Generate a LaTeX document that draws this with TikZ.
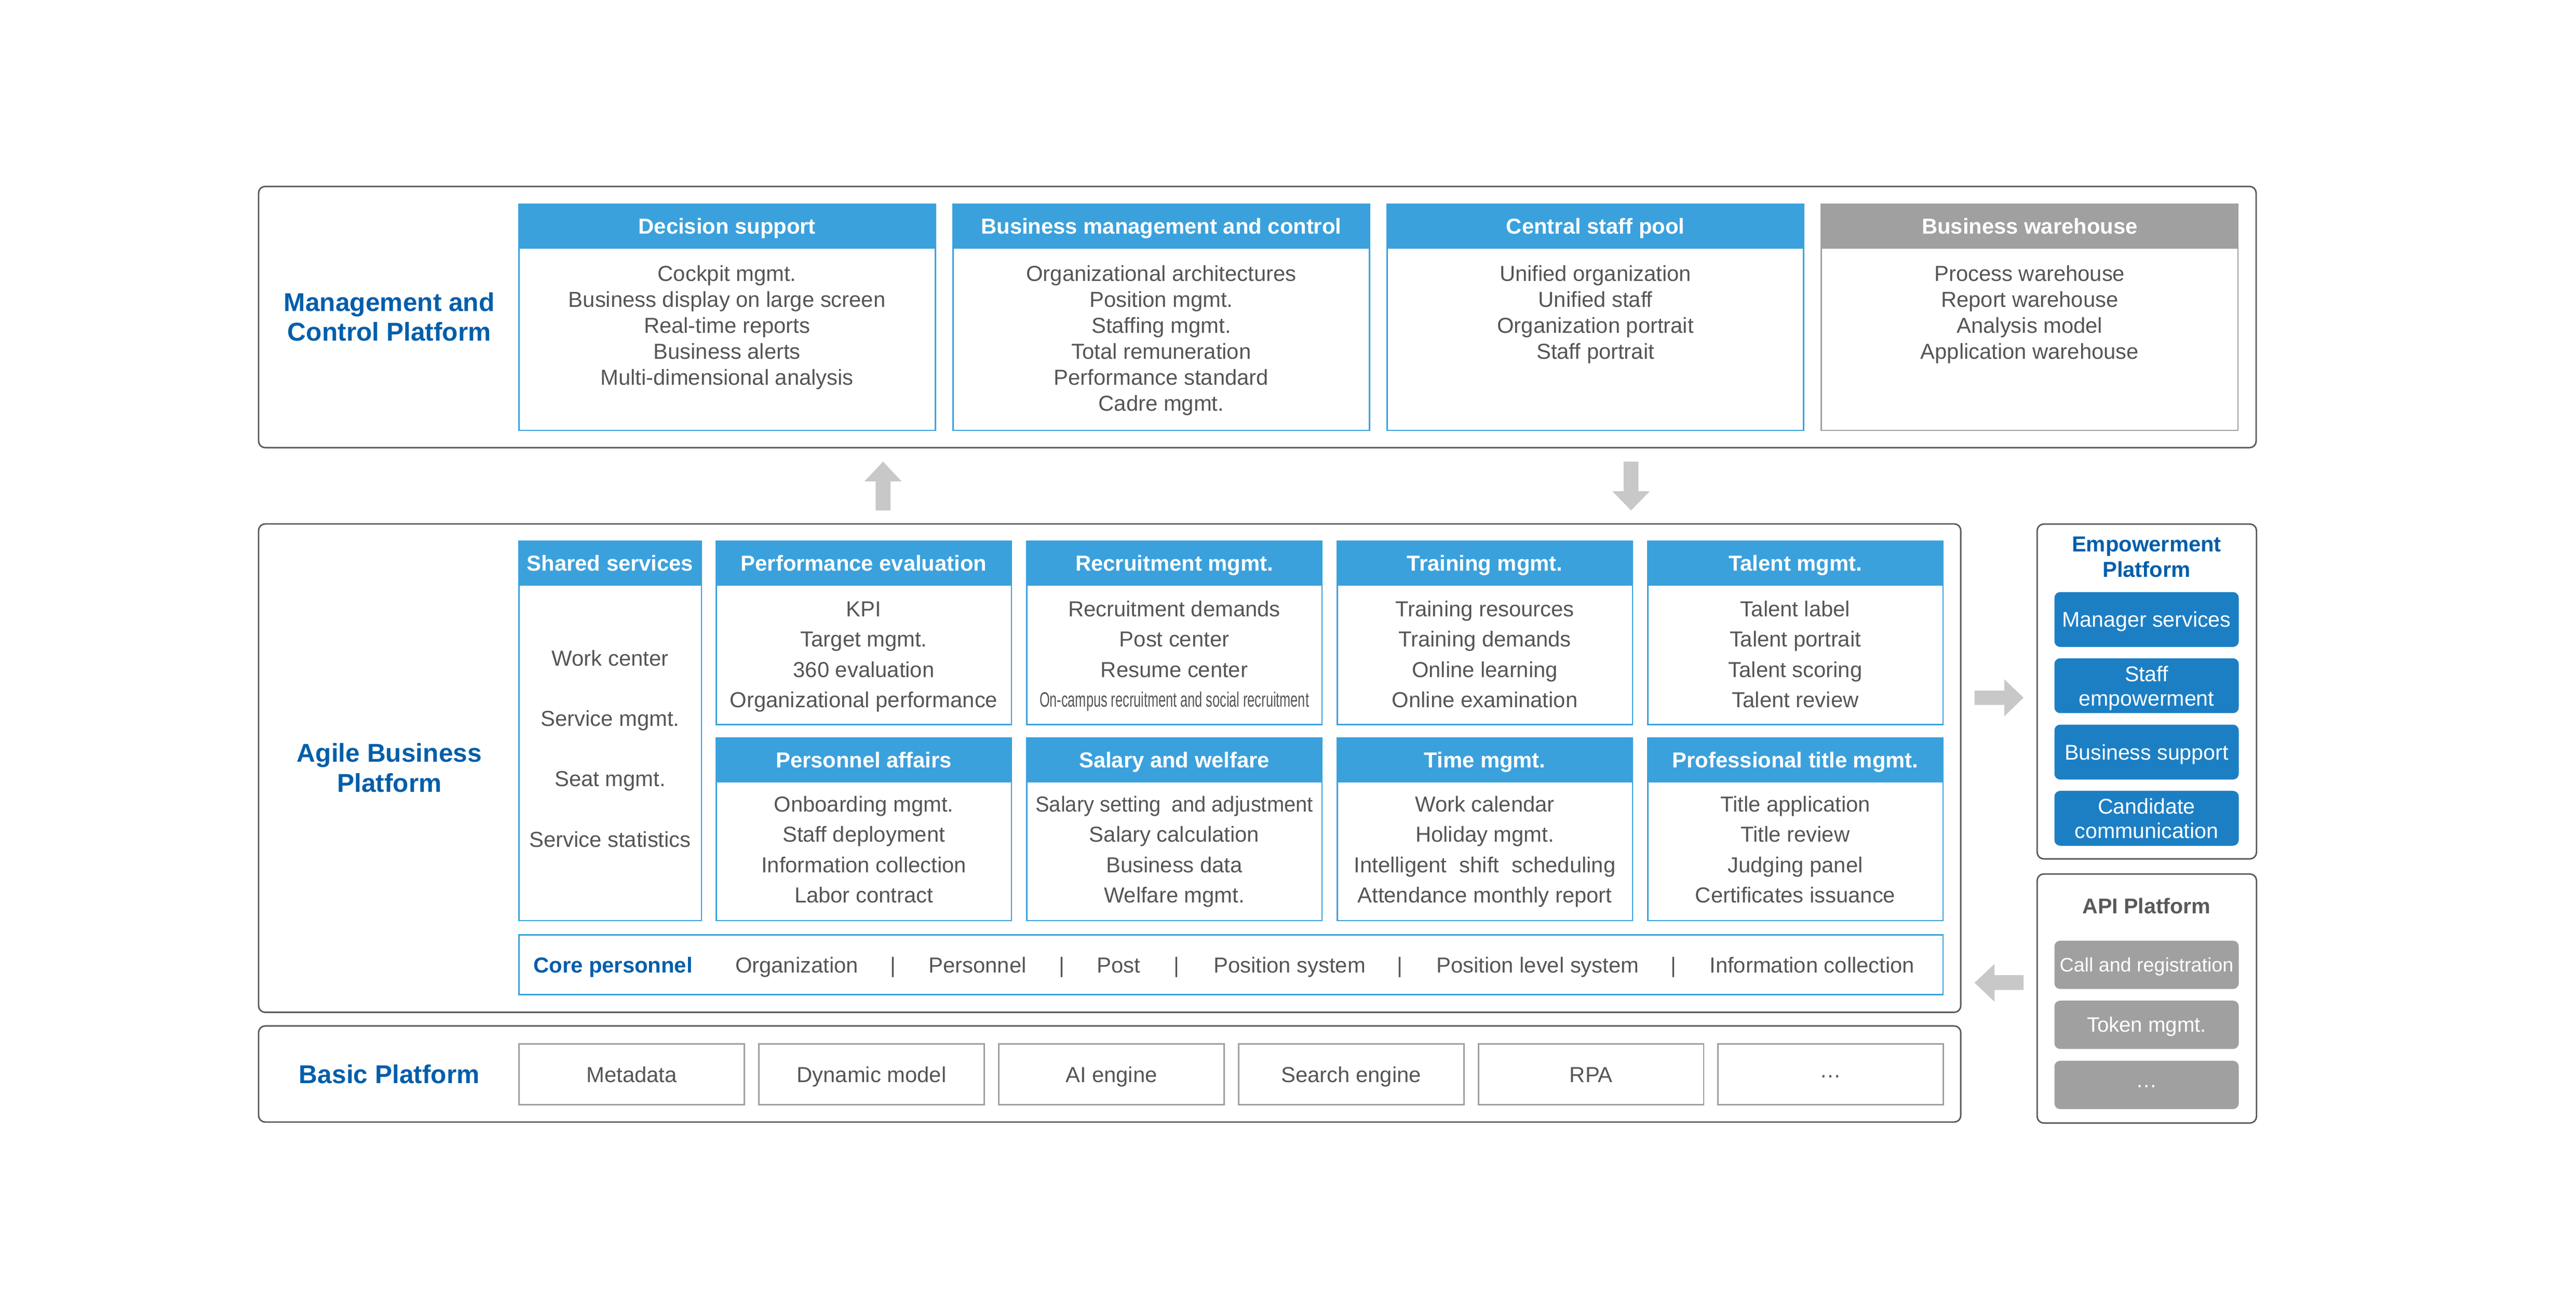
\documentclass[tikz,border=0pt]{standalone}
\usepackage{fontspec}
\setmainfont{Liberation Sans}
\usetikzlibrary{calc}
\definecolor{hdrblue}{HTML}{3BA1DC}
\definecolor{hdrgray}{HTML}{A0A0A0}
\definecolor{ttlblue}{HTML}{005EAA}
\definecolor{btnblue}{HTML}{1C7FC4}
\definecolor{txtgray}{HTML}{555555}
\definecolor{linegray}{HTML}{595959}
\definecolor{arrowgray}{HTML}{C8C8C8}
\tikzset{
  outerbox/.style={draw=linegray, line width=0.9pt, rounded corners=4pt, inner sep=0pt, outer sep=0pt, anchor=north west},
  cardbox/.style={draw, line width=0.9pt, fill=white, inner sep=0pt, outer sep=0pt, anchor=north west},
  txt/.style={anchor=base, inner sep=0pt, text=txtgray, font=\fontsize{13.2}{15.8}\selectfont},
  wtxt/.style={anchor=base, inner sep=0pt, text=white, font=\fontsize{13}{15}\selectfont},
  hdrtxt/.style={anchor=base, inner sep=0pt, text=white, font=\bfseries\fontsize{13.2}{15.8}\selectfont},
  ttl/.style={anchor=base, inner sep=0pt, text=ttlblue, font=\bfseries\fontsize{15.7}{18}\selectfont},
  sttl/.style={anchor=base, inner sep=0pt, text=ttlblue, font=\bfseries\fontsize{13.2}{15.8}\selectfont},
  btn/.style={fill=btnblue, rounded corners=3.5pt, inner sep=0pt, outer sep=0pt, anchor=north west},
  gbtn/.style={fill=hdrgray, rounded corners=3.5pt, inner sep=0pt, outer sep=0pt, anchor=north west},
  blockarrow/.style={fill=arrowgray},
}
% name, x, y, w, h, header h, colour, title
\newcommand\mkcard[8]{%
  \node[cardbox, draw=#7, minimum width=#4pt, minimum height=#5pt] (#1) at (#2,#3) {};
  \node[cardbox, draw=#7, fill=#7, minimum width=#4pt, minimum height=#6pt] (#1h) at (#2,#3) {};
  \node[hdrtxt] (#1t) at ($(#1h.center)+(0,4.7)$) {#8};}
% prefix, cx, first baseline, spacing, list
\newcommand\mklines[5]{%
  \foreach \itm [count=\i] in {#5} {\node[txt] (#1\i) at ({#2},{#3+(\i-1)*#4}) {\itm};}}
\begin{document}
\begin{tikzpicture}[x=1pt,y=-1pt]
\useasboundingbox (0,0) rectangle (1568,796.8);

% ---------- Management and Control Platform ----------
\node[outerbox, minimum width=1215.9pt, minimum height=159pt] (mcp) at (157.4,113.5) {};
\node[ttl] (mcpt1) at (237,189.4) {Management and};
\node[ttl] (mcpt2) at (237,207.5) {Control Platform};

\mkcard{ds}{315.8}{124.2}{253.5}{137.8}{26.9}{hdrblue}{Decision support}
\mklines{dsl}{442.55}{171}{15.85}{Cockpit mgmt., Business display on large screen, Real-time reports, Business alerts, Multi-dimensional analysis}
\mkcard{bm}{580.1}{124.2}{253.5}{137.8}{26.9}{hdrblue}{Business management and control}
\mklines{bml}{706.85}{171}{15.85}{Organizational architectures, Position mgmt., Staffing mgmt., Total remuneration, Performance standard, Cadre mgmt.}
\mkcard{cs}{844.4}{124.2}{253.5}{137.8}{26.9}{hdrblue}{Central staff pool}
\mklines{csl}{971.15}{171}{15.85}{Unified organization, Unified staff, Organization portrait, Staff portrait}
\mkcard{bw}{1108.7}{124.2}{253.5}{137.8}{26.9}{hdrgray}{Business warehouse}
\mklines{bwl}{1235.45}{171}{15.85}{Process warehouse, Report warehouse, Analysis model, Application warehouse}

% ---------- vertical block arrows ----------
\fill[blockarrow] (537.5,281) -- (548.8,293) -- (542,293) -- (542,310.7) -- (533,310.7) -- (533,293) -- (526.2,293) -- cycle;
\fill[blockarrow] (992.8,310.7) -- (1004.2,299) -- (997.3,299) -- (997.3,281) -- (988.3,281) -- (988.3,299) -- (981.4,299) -- cycle;

% ---------- Agile Business Platform ----------
\node[outerbox, minimum width=1036.1pt, minimum height=297.3pt] (abp) at (157.4,318.9) {};
\node[ttl] (abpt1) at (237,463.7) {Agile Business};
\node[ttl] (abpt2) at (237,482.1) {Platform};

\mkcard{ss}{315.8}{329.6}{111.2}{230.8}{26.6}{hdrblue}{Shared services}
\mklines{ssl}{371.4}{405.2}{36.8}{Work center, Service mgmt., Seat mgmt., Service statistics}

\mkcard{pe}{435.9}{329.6}{179.8}{111.4}{26.6}{hdrblue}{Performance evaluation}
\mklines{pel}{525.8}{375.4}{18.4}{KPI, Target mgmt., 360 evaluation, Organizational performance}
\mkcard{rm}{624.9}{329.6}{179.8}{111.4}{26.6}{hdrblue}{Recruitment mgmt.}
\mklines{rml}{714.8}{375.4}{18.4}{Recruitment demands, Post center, Resume center}
\node[txt] (rml4) at (714.8,430.4) {\scalebox{0.63}[1]{\fontsize{12.7}{15}\selectfont On-campus recruitment and social recruitment}};
\mkcard{tm}{813.9}{329.6}{179.8}{111.4}{26.6}{hdrblue}{Training mgmt.}
\mklines{tml}{903.8}{375.4}{18.4}{Training resources, Training demands, Online learning, Online examination}
\mkcard{tl}{1002.9}{329.6}{179.8}{111.4}{26.6}{hdrblue}{Talent mgmt.}
\mklines{tll}{1092.8}{375.4}{18.4}{Talent label, Talent portrait, Talent scoring, Talent review}

\mkcard{pa}{435.9}{449.2}{179.8}{111.2}{26.5}{hdrblue}{Personnel affairs}
\mklines{pal}{525.8}{494.2}{18.4}{Onboarding mgmt., Staff deployment, Information collection, Labor contract}
\mkcard{sw}{624.9}{449.2}{179.8}{111.2}{26.5}{hdrblue}{Salary and welfare}
\node[txt] (swl1) at (714.8,494.2) {\scalebox{0.955}[1]{Salary setting\hspace{3pt} and adjustment}};
\mklines{swl}{714.8}{512.6}{18.4}{Salary calculation, Business data, Welfare mgmt.}
\mkcard{ti}{813.9}{449.2}{179.8}{111.2}{26.5}{hdrblue}{Time mgmt.}
\mklines{til}{903.8}{494.2}{18.4}{Work calendar, Holiday mgmt., Intelligent\hspace{4pt} shift\hspace{4pt} scheduling, Attendance monthly report}
\mkcard{pt}{1002.9}{449.2}{179.8}{111.2}{26.5}{hdrblue}{Professional title mgmt.}
\mklines{ptl}{1092.8}{494.2}{18.4}{Title application, Title review, Judging panel, Certificates issuance}

% core personnel bar
\node[cardbox, draw=hdrblue, minimum width=866.9pt, minimum height=36.3pt] (core) at (315.8,569) {};
\node[sttl, anchor=base west] (corep) at (324.5,592) {Core personnel};
\node[txt] (c1) at (485,592) {Organization};
\node[txt] (s1) at (543.6,592) {|};
\node[txt] (c2) at (595,592) {Personnel};
\node[txt] (s2) at (646.4,592) {|};
\node[txt] (c3) at (681,592) {Post};
\node[txt] (s3) at (716.3,592) {|};
\node[txt] (c4) at (785,592) {Position system};
\node[txt] (s4) at (852,592) {|};
\node[txt] (c5) at (936,592) {Position level system};
\node[txt] (s5) at (1018.5,592) {|};
\node[txt] (c6) at (1103,592) {Information collection};

% ---------- Basic Platform ----------
\node[outerbox, minimum width=1036.1pt, minimum height=58.5pt] (bp) at (157.4,624.5) {};
\node[ttl] (bpt) at (237,659.6) {Basic Platform};
\foreach \nm/\xx/\lab in {b1/316/Metadata, b2/462/Dynamic model, b3/608/AI engine, b4/754/Search engine, b5/900/RPA}{
  \node[cardbox, draw=hdrgray, minimum width=137pt, minimum height=37pt] (\nm) at (\xx,635.5) {};
  \node[txt] (\nm t) at ({\xx+68.5},658.7) {\lab};
}
\node[cardbox, draw=hdrgray, minimum width=137pt, minimum height=37pt] (b6) at (1045.8,635.5) {};
\node[txt] (b6t) at (1114.3,656) {\dots};

% ---------- horizontal block arrows ----------
\fill[blockarrow] (1231.7,424.7) -- (1220,413.5) -- (1220,420.4) -- (1201.9,420.4) -- (1201.9,429.1) -- (1220,429.1) -- (1220,436) -- cycle;
\fill[blockarrow] (1201.9,598.2) -- (1214,586.8) -- (1214,593.6) -- (1231.7,593.6) -- (1231.7,602.6) -- (1214,602.6) -- (1214,609.7) -- cycle;

% ---------- Empowerment Platform ----------
\node[outerbox, minimum width=133.5pt, minimum height=203.8pt] (ep) at (1240,319) {};
\node[sttl] (ept1) at (1306.6,335.9) {Empowerment};
\node[sttl] (ept2) at (1306.6,351.4) {Platform};
\node[btn, minimum width=112.2pt, minimum height=33.4pt] (e1) at (1250.5,360.4) {};
\node[wtxt] (e1t) at (1306.6,381.8) {Manager services};
\node[btn, minimum width=112.2pt, minimum height=33.4pt] (e2) at (1250.5,400.7) {};
\node[wtxt] (e2t) at (1306.6,414.7) {Staff};
\node[wtxt] (e2u) at (1306.6,429.7) {empowerment};
\node[btn, minimum width=112.2pt, minimum height=33.4pt] (e3) at (1250.5,441.1) {};
\node[wtxt] (e3t) at (1306.6,462.5) {Business support};
\node[btn, minimum width=112.2pt, minimum height=33.4pt] (e4) at (1250.5,481.4) {};
\node[wtxt] (e4t) at (1306.6,495.3) {Candidate};
\node[wtxt] (e4u) at (1306.6,510.3) {communication};

% ---------- API Platform ----------
\node[outerbox, minimum width=133.5pt, minimum height=151.6pt] (api) at (1240,532) {};
\node[anchor=base, inner sep=0pt, text=linegray, font=\bfseries\fontsize{13}{15}\selectfont] (apit) at (1306.6,556.2) {API Platform};
\node[gbtn, minimum width=112.2pt, minimum height=29.4pt] (a1) at (1250.5,572.6) {};
\node[wtxt, font=\fontsize{11.9}{14}\selectfont] (a1t) at (1306.6,591.6) {Call and registration};
\node[gbtn, minimum width=112.2pt, minimum height=29.4pt] (a2) at (1250.5,609.1) {};
\node[wtxt, font=\fontsize{12.7}{15}\selectfont] (a2t) at (1306.6,628.3) {Token mgmt.};
\node[gbtn, minimum width=112.2pt, minimum height=29.4pt] (a3) at (1250.5,645.7) {};
\node[wtxt] (a3t) at (1306.6,662) {\dots};
\end{tikzpicture}
\end{document}
